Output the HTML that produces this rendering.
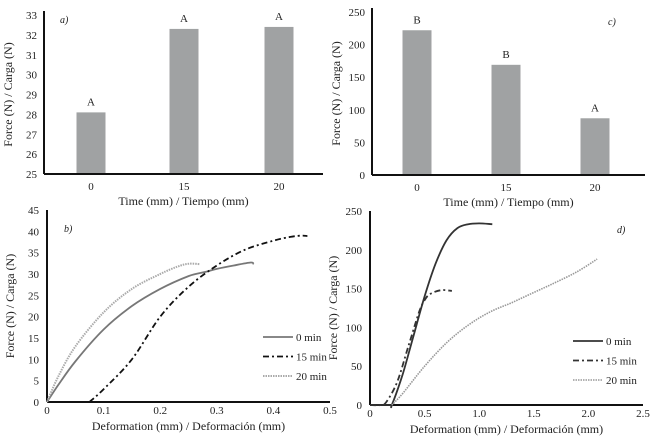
<!DOCTYPE html>
<html><head><meta charset="utf-8">
<style>
body{margin:0;background:#fff;}
svg{display:block;font-family:"Liberation Serif",serif;}
</style></head>
<body>
<svg id="c" width="651" height="438" viewBox="0 0 651 438"></svg>
<script>
// Panel a
const aCats=["0","15","20"];
const aVals=[28.1,32.3,32.4];
const aLetters=["A","A","A"];
const aTicks=[25,26,27,28,29,30,31,32,33];
// Panel c
const cCats=["0","15","20"];
const cVals=[222,169,87];
const cLetters=["B","B","A"];
const cTicks=[0,50,100,150,200,250];
// Panel b
const bTicksY=[0,5,10,15,20,25,30,35,40,45];
const bTicksYLabels=["0","5","10","15","20","25","30","35","40","45"];
const bTicksX=[0,0.1,0.2,0.3,0.4,0.5];
const b0x=[0,0.02,0.05,0.1,0.15,0.2,0.25,0.28,0.3,0.33,0.36,0.365];
const b0y=[0,4,9.5,17,22.5,26.5,29.5,30.5,31.2,32,32.7,32.3];
const b15x=[0.075,0.1,0.15,0.2,0.25,0.3,0.35,0.4,0.43,0.45,0.46];
const b15y=[0,3,10,20,27,32,35.7,37.8,38.7,39,38.9];
const b20x=[0,0.02,0.05,0.1,0.15,0.2,0.23,0.25,0.27];
const b20y=[0,6,13,21,26.5,30,31.7,32.4,32.3];
// Panel d
const dTicksY=[0,50,100,150,200,250];
const dTicksX=[0,0.5,1.0,1.5,2.0,2.5];
const dTicksXLabels=["0","0.5","1.0","1.5","2.0","2.5"];
const d0x=[0,0.18,0.2,0.3,0.4,0.5,0.6,0.7,0.8,0.9,1.0,1.12];
const d0y=[0,0,0,40,90,140,182,212,228,233,234,233];
const d15x=[0,0.1,0.15,0.25,0.35,0.45,0.5,0.55,0.65,0.75];
const d15y=[0,0,4,30,75,120,135,143,148,147];
const d20x=[0.2,0.3,0.5,0.7,0.9,1.1,1.3,1.5,1.7,1.9,2.08];
const d20y=[0,15,50,80,103,120,132,145,158,172,188];

const svg=document.getElementById('c');
const NS='http://www.w3.org/2000/svg';
function el(tag,attrs,parent){const e=document.createElementNS(NS,tag);for(const k in attrs)e.setAttribute(k,attrs[k]);(parent||svg).appendChild(e);return e;}
function txt(x,y,s,size,anchor,parent,extra){const t=el('text',Object.assign({x:x,y:y,'font-size':size,'text-anchor':anchor||'middle',fill:'#222'},extra||{}),parent);t.textContent=s;return t;}

function axes(g,x0,x1,y0,y1){
  const a=el('line',{x1:x0,y1:y0,x2:x0,y2:y1,stroke:'#111','stroke-width':2},g);
  
  
  const b=el('line',{x1:x0,y1:y0,x2:x1,y2:y0,stroke:'#111','stroke-width':2},g);
  
  
}
function ytitle(g,x,y){const t=txt(x,y,"Force (N) / Carga (N)",12,'middle',g,{transform:`rotate(-90 ${x} ${y})`});
  }

function barPanel(name,cats,vals,letters,ticks,min,max,x0,x1,yBot,yTop,centers,bw,title,lbl,lx,ly){
  const g=el('g',{});
  
  
  const ys=v=>yBot-(v-min)/(max-min)*(yBot-yTop);
  ticks.forEach(t=>{const e=txt(x0-7,ys(t)+4,String(t),11,'end',g);
    });
  cats.forEach((c,i)=>{
    const r=el('rect',{x:centers[i]-bw/2,y:ys(vals[i]),width:bw,height:yBot-ys(vals[i]),fill:'#a0a2a3'},g);
    
    const l=txt(centers[i],ys(vals[i])-7,letters[i],11,'middle',g);
    
    const xl=txt(centers[i],yBot+16,c,11,'middle',g);
    
  });
  axes(g,x0,x1,yBot,yTop-4);
  const tt=txt((x0+x1)/2,yBot+31,title,12,'middle',g);
  
  ytitle(g,x0-32,(yBot+yTop)/2);
  const pl=txt(lx,ly,lbl,10,'start',g,{'font-style':'italic'});
  
}
barPanel('panel-a',aCats,aVals,aLetters,aTicks,25,33,44,323,174,15,[91,184,279],29,"Time (mm) / Tiempo (mm)","a)",60,23);
barPanel('panel-c',cCats,cVals,cLetters,cTicks,0,250,372,645,175,12,[417,506,595],29,"Time (mm) / Tiempo (mm)","c)",608,25);

function smooth(pts){
  let d='M'+pts[0][0].toFixed(1)+','+pts[0][1].toFixed(1);
  for(let i=0;i<pts.length-1;i++){
    const p0=pts[i-1]||pts[i],p1=pts[i],p2=pts[i+1],p3=pts[i+2]||p2;
    const c1=[p1[0]+(p2[0]-p0[0])/6,p1[1]+(p2[1]-p0[1])/6];
    const c2=[p2[0]-(p3[0]-p1[0])/6,p2[1]-(p3[1]-p1[1])/6];
    d+=` C${c1[0].toFixed(1)},${c1[1].toFixed(1)} ${c2[0].toFixed(1)},${c2[1].toFixed(1)} ${p2[0].toFixed(1)},${p2[1].toFixed(1)}`;
  }
  return d;
}

function linePanel(name,x0,x1,y0,y1,xmax,ymax,xt,xtl,yt,ytl,series,lbl,lx,ly,legX,legY){
  const g=el('g',{});
  
  
  const xs=v=>x0+v/xmax*(x1-x0), ys=v=>y0-v/ymax*(y0-y1);
  yt.forEach((t,i)=>{const e=txt(x0-8,ys(t)+4,ytl[i],11,'end',g);
    });
  xt.forEach((t,i)=>{const e=txt(xs(t),y0+12,xtl[i],11,'middle',g);
    });
  axes(g,x0,x1,y0,y1);
  series.forEach((s,k)=>{
    const d=smooth(s.x.map((v,i)=>[xs(v),ys(s.y[i])]));
    const p=el('path',{d:d,fill:'none',stroke:s.c,'stroke-width':s.w,'stroke-dasharray':s.dash},g);
    
    const ly2=legY+k*19.5;
    const ll=el('line',{x1:legX,y1:ly2,x2:legX+30,y2:ly2,stroke:s.c,'stroke-width':s.w,'stroke-dasharray':s.dash},g);
    
    const lt=txt(legX+33,ly2+4,s.n,11,'start',g);
    
  });
  const tt=txt((x0+x1)/2,y0+28,"Deformation (mm) / Deformación (mm)",12,'middle',g);
  
  ytitle(g,x0-33,(y0+y1)/2);
  const pl=txt(lx,ly,lbl,10,'start',g,{'font-style':'italic'});
  
}
linePanel('panel-b',47,330,402,210,0.5,45,bTicksX,["0","0.1","0.2","0.3","0.4","0.5"],bTicksY,bTicksYLabels,[
  {n:'0 min',x:b0x,y:b0y,c:'#777',w:1.8,dash:''},
  {n:'15 min',x:b15x,y:b15y,c:'#111',w:1.8,dash:'6,3,2,3'},
  {n:'20 min',x:b20x,y:b20y,c:'#aaa',w:2,dash:'1.5,1'}],"b)",64,232,263,337);
linePanel('panel-d',370,643,405,211,2.5,250,dTicksX,dTicksXLabels,dTicksY,dTicksY.map(String),[
  {n:'0 min',x:d0x,y:d0y,c:'#333',w:1.8,dash:''},
  {n:'15 min',x:d15x,y:d15y,c:'#333',w:1.8,dash:'6,3,2,3'},
  {n:'20 min',x:d20x,y:d20y,c:'#999',w:1.6,dash:'1.5,1'}],"d)",617,233,573,341);
</script>
</body></html>
